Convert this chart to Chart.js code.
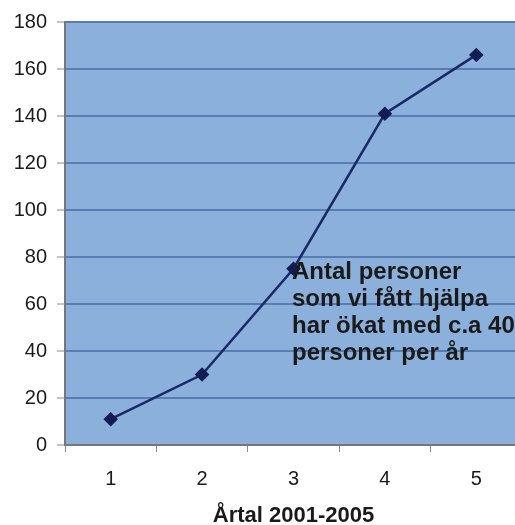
<!DOCTYPE html>
<html>
<head>
<meta charset="utf-8">
<script src="https://cdn.jsdelivr.net/npm/chart.js@4/dist/chart.umd.min.js"></script>
<style>
  html, body { margin: 0; padding: 0; background: #fff; overflow: hidden; }
  #wrap { position: relative; width: 530px; height: 525px; }
  #note {
    position: absolute; left: 292px; top: 257px;
    font: bold 24px "Liberation Sans", Arial, sans-serif;
    line-height: 27px; color: #1a1a1a; white-space: nowrap;
  }
</style>
</head>
<body>
<div id="wrap">
  <canvas id="chart" width="530" height="525"></canvas>
  <div id="note">Antal personer<br>som vi fått hjälpa<br>har ökat med c.a 40<br>personer per år</div>
</div>
<script>
// data
const years = ['1', '2', '3', '4', '5'];
const persons = [11, 30, 75, 141, 166];
const yMax = 180;
const yStep = 20;
const xTitle = 'Årtal 2001-2005';

// paints the blue plot area
const plotBg = {
  id: 'plotBg',
  beforeDraw(chart) {
    const { ctx, chartArea: a } = chart;
    ctx.save();
    ctx.fillStyle = '#8cb0dc';
    ctx.fillRect(a.left, a.top, a.right - a.left, a.bottom - a.top);
    ctx.restore();
  }
};

const font = 'Liberation Sans, Arial, sans-serif';

new Chart(document.getElementById('chart'), {
  type: 'line',
  data: {
    labels: years,
    datasets: [{
      data: persons,
      borderColor: '#1a2868',
      borderWidth: 2.5,
      tension: 0,
      pointStyle: 'rectRot',
      pointRadius: 5.5,
      pointBackgroundColor: '#131d55',
      pointBorderColor: '#131d55'
    }]
  },
  options: {
    responsive: false,
    animation: false,
    devicePixelRatio: 1,
    layout: { padding: { top: 22, right: 6, left: 0, bottom: 0 } },
    plugins: { legend: { display: false }, tooltip: { enabled: false } },
    scales: {
      y: {
        min: 0,
        max: yMax,
        afterFit: (s) => { s.width = 65; },
        ticks: { stepSize: yStep, color: '#1a1a1a', padding: 10, font: { family: font, size: 20 } },
        grid: { color: '#587db2', lineWidth: 2, tickLength: 8, tickColor: '#8a8a8a', tickWidth: 1 },
        border: { color: '#777', width: 2 }
      },
      x: {
        offset: true,
        afterFit: (s) => { s.height = 80; },
        ticks: { color: '#1a1a1a', padding: 15, font: { family: font, size: 20 } },
        grid: { offset: true, drawOnChartArea: false, tickLength: 7, tickColor: '#8a8a8a' },
        border: { color: '#777', width: 2 },
        title: {
          display: true,
          text: xTitle,
          color: '#1a1a1a',
          font: { family: font, size: 22, weight: 'bold' },
          padding: { top: 4, bottom: -4 }
        }
      }
    }
  },
  plugins: [plotBg]
});
</script>
</body>
</html>
